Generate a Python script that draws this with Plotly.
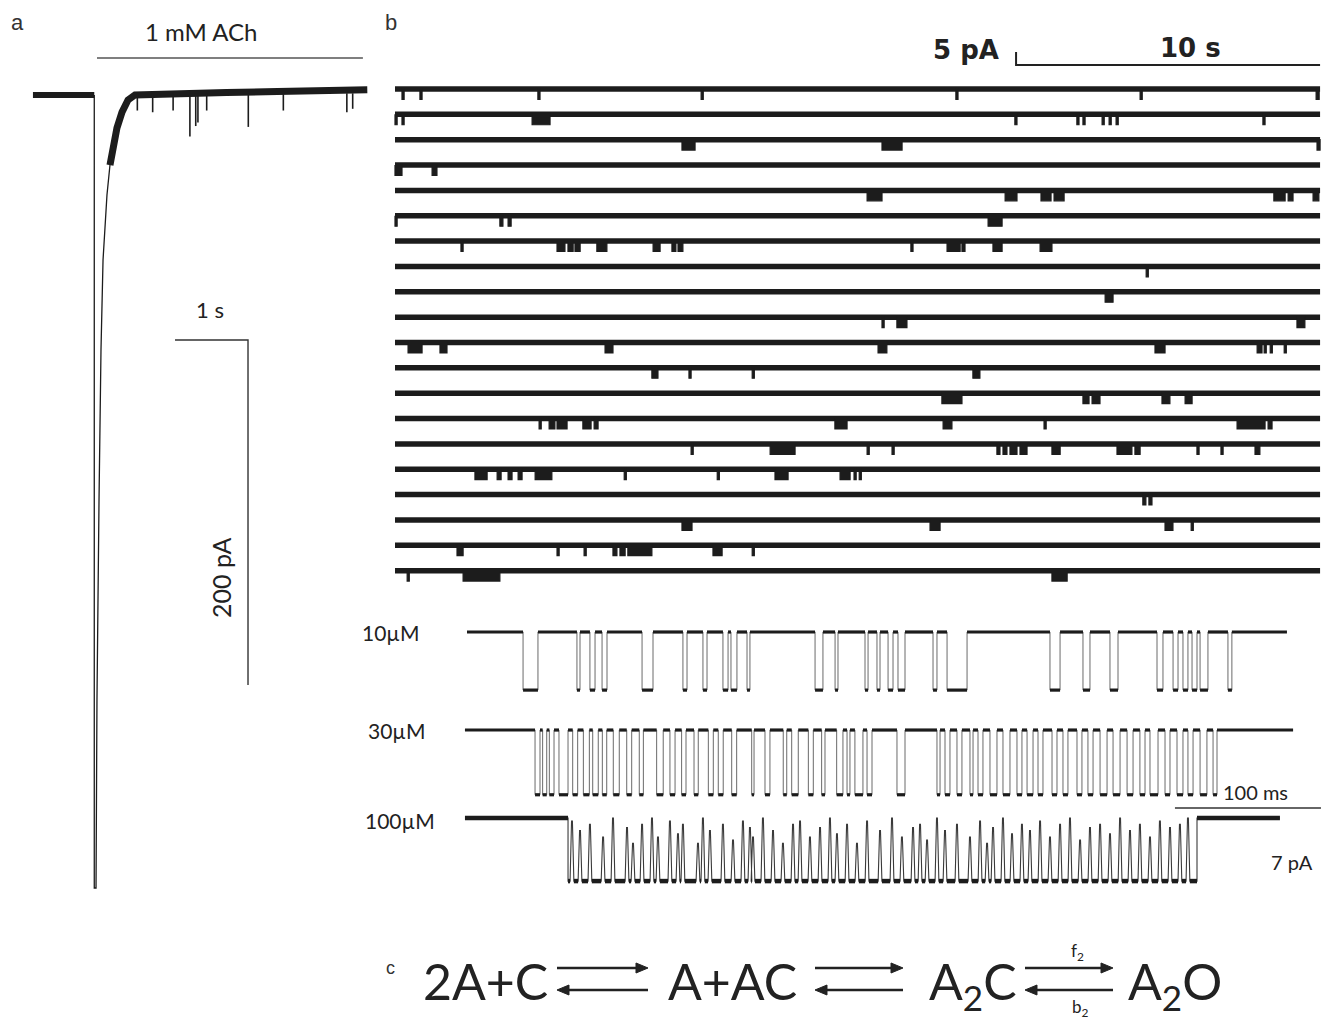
import plotly.graph_objects as go

W, H = 1321, 1025

# ================= panel a : whole-cell current, 1 mM ACh (time s, current pA) =================
a_pre_t = [-0.85, -0.01]
a_pre_I = [0.0, 0.0]
a_fast_t = [-0.01, -0.01, 0.014, 0.027, 0.055, 0.082, 0.110, 0.137, 0.164, 0.205, 0.247]
a_fast_I = [0.0, -459.7, -459.7, -350.7, -234.8, -147.8, -95.7, -72.5, -58.0, -40.6, -29.0]
a_rec_t = [0.205, 0.247, 0.301, 0.370, 0.452, 0.548, 0.80, 1.20, 1.80, 2.50, 3.10, 3.73]
a_rec_I = [-40.6, -29.0, -19.1, -9.9, -2.9, 0.0, 0.5, 1.0, 1.5, 2.0, 2.5, 3.0]
a_dip_t = [0.58, 0.79, 1.07, 1.30, 1.38, 1.41, 1.53, 2.10, 2.58, 3.45, 3.53]
a_dip_I = [-9.0, -10.0, -9.0, -24.0, -18.0, -16.0, -9.0, -18.5, -9.0, -10.0, -8.0]
ach_t = [0.027, 3.67]
ach_level = 21.4
sb_a = dict(t0=1.096, I0=-142.0, dt=1.0, dI=200.0)

# ================= panel b : single-channel record, 20 rows (time s, current pA) =================
b_len = 30.43
b_row_step = 9.75
b_amp = 4.0
row_01 = [(0.23, 0.30), (0.82, 0.89), (4.70, 4.77), (10.07, 10.14), (18.45, 18.52), (24.51, 24.58), (30.30, 30.40)]
row_02 = [(0.0, 0.07), (0.23, 0.30), (4.51, 5.10), (20.39, 20.46), (22.43, 22.50), (22.63, 22.70),
          (23.26, 23.33), (23.49, 23.56), (23.72, 23.79), (28.55, 28.62)]
row_03 = [(9.44, 9.87), (16.02, 16.68), (30.33, 30.43)]
row_04 = [(0.0, 0.23), (1.22, 1.38)]
row_05 = [(15.53, 16.02), (20.07, 20.46), (21.25, 21.58), (21.68, 22.01), (28.91, 29.28), (29.38, 29.54), (30.20, 30.39)]
row_06 = [(0.0, 0.07), (3.45, 3.55), (3.72, 3.82), (19.51, 19.97)]
row_07 = [(2.17, 2.24), (5.33, 5.59), (5.69, 5.86), (5.92, 6.09), (6.64, 6.97), (8.49, 8.72), (9.11, 9.24),
          (9.31, 9.47), (16.97, 17.04), (18.16, 18.59), (18.65, 18.75), (19.67, 19.97), (21.22, 21.61)]
row_08 = [(24.71, 24.78)]
row_09 = [(23.36, 23.62)]
row_10 = [(16.02, 16.09), (16.51, 16.84), (29.67, 29.93)]
row_11 = [(0.43, 0.89), (1.48, 1.71), (6.91, 7.17), (15.89, 16.18), (25.00, 25.33), (28.36, 28.52),
          (28.59, 28.66), (28.79, 28.86), (29.25, 29.32)]
row_12 = [(8.45, 8.65), (9.67, 9.74), (11.75, 11.82), (19.01, 19.24)]
row_13 = [(17.99, 18.65), (22.63, 22.83), (22.93, 23.19), (25.23, 25.49), (25.99, 26.22)]
row_14 = [(4.74, 4.81), (5.07, 5.26), (5.33, 5.66), (6.18, 6.45), (6.55, 6.68), (14.47, 14.87), (18.03, 18.32),
          (21.35, 21.42), (27.70, 28.62), (28.72, 28.85)]
row_15 = [(9.74, 9.81), (12.34, 13.16), (15.53, 15.60), (16.35, 16.42), (19.80, 19.90), (20.00, 20.13),
          (20.23, 20.46), (20.56, 20.79), (21.61, 21.88), (23.75, 24.24), (24.34, 24.51), (26.38, 26.45),
          (27.17, 27.24), (28.29, 28.45)]
row_16 = [(2.63, 3.03), (3.36, 3.49), (3.72, 3.85), (4.05, 4.18), (4.61, 5.16), (7.54, 7.61), (10.60, 10.67),
          (12.50, 12.93), (14.64, 14.97), (15.10, 15.17), (15.27, 15.34)]
row_17 = [(24.60, 24.70), (24.80, 24.90)]
row_18 = [(9.44, 9.77), (17.60, 17.93), (25.33, 25.59), (26.19, 26.26)]
row_19 = [(2.04, 2.24), (5.33, 5.40), (6.22, 6.29), (7.17, 7.30), (7.40, 7.57), (7.66, 8.45), (10.46, 10.76), (11.75, 11.82)]
row_20 = [(0.40, 0.47), (2.24, 3.45), (21.61, 22.11)]
b_rows = [row_01, row_02, row_03, row_04, row_05, row_06, row_07, row_08, row_09, row_10,
          row_11, row_12, row_13, row_14, row_15, row_16, row_17, row_18, row_19, row_20]
sb_b = dict(t0=20.43, I0=9.23, dt=10.0, dI=5.0)

# ================= bottom : clusters at 3 concentrations (time ms, current pA) =================
c_labels = ["10µM", "30µM", "100µM"]
c_offsets = [0.0, -11.81, -22.41]
c_amp = [7.0, 7.8, 7.6]
c10_span = (0.0, 561.6)
c10_open = [(38.4, 48.6), (75.3, 77.4), (84.2, 87.7), (92.5, 95.9), (119.9, 127.4), (147.9, 150.7),
            (161.6, 164.4), (175.3, 178.8), (180.8, 184.9), (191.8, 193.8), (238.4, 243.8), (252.1, 254.1),
            (272.6, 274.7), (280.8, 282.9), (288.4, 291.8), (295.2, 300.0), (319.2, 321.9), (328.8, 342.5),
            (399.3, 406.2), (421.9, 426.7), (440.4, 445.9), (472.6, 476.7), (483.6, 487.0), (490.4, 493.8),
            (496.6, 500.0), (502.1, 507.5), (521.2, 523.9)]
c30_span = (-1.4, 565.8)
c30_open = [(46.6, 50.0), (51.8, 54.6), (56.4, 59.6), (63.0, 69.2), (72.4, 75.8), (79.7, 83.8), (86.1, 89.9),
            (92.7, 95.7), (100.2, 104.3), (109.4, 112.8), (118.0, 120.8), (129.9, 134.4), (139.0, 142.5),
            (147.0, 150.0), (155.5, 158.4), (165.3, 168.7), (172.1, 175.5), (181.3, 184.7), (195.0, 196.6),
            (204.1, 207.5), (216.6, 219.0), (222.4, 226.9), (233.8, 237.2), (242.9, 245.2), (253.2, 257.5),
            (260.3, 262.3), (265.7, 271.2), (274.0, 277.4), (294.5, 300.0), (321.9, 324.0), (327.4, 330.8),
            (335.6, 339.0), (344.5, 346.6), (350.0, 353.4), (358.2, 363.0), (367.1, 371.9), (376.7, 380.1),
            (383.6, 387.7), (391.1, 394.5), (400.7, 404.1), (408.2, 411.6), (417.8, 421.2), (425.3, 428.8),
            (433.6, 438.4), (442.5, 447.3), (452.1, 456.2), (460.9, 464.4), (467.8, 473.3), (478.1, 481.5),
            (486.3, 490.4), (493.8, 497.3), (502.1, 506.8), (511.0, 513.7)]
c100_span = (-1.4, 556.8)
c100_burst = (69.2, 500.0)
c100_close_t = [71.9, 77.4, 84.2, 93.2, 100.0, 109.6, 113.7, 119.9, 126.7, 130.8, 139.0,
                144.5, 147.9, 158.2, 161.6, 166.4, 175.3, 182.2, 189.0, 193.8, 195.9, 202.7,
                209.6, 216.4, 223.3, 228.1, 234.9, 241.8, 248.6, 253.4, 260.3, 267.1, 274.0,
                282.9, 291.1, 297.9, 305.5, 310.3, 315.1, 321.9, 327.4, 335.6, 344.5, 351.4,
                356.2, 360.3, 367.1, 373.3, 380.1, 385.6, 392.5, 399.3, 406.2, 413.0, 419.9,
                426.7, 433.6, 440.4, 447.3, 454.1, 460.9, 467.8, 474.6, 481.5, 488.3, 493.8]
c100_close_h = [0.95, 0.80, 0.90, 0.70, 1.00, 0.85, 0.60, 0.90, 1.00, 0.70, 0.95,
                0.75, 0.90, 0.60, 1.00, 0.80, 0.90, 0.65, 0.95, 0.85, 0.70, 1.00,
                0.80, 0.60, 0.90, 0.95, 0.70, 0.85, 1.00, 0.75, 0.90, 0.60, 0.95,
                0.80, 1.00, 0.70, 0.85, 0.90, 0.65, 1.00, 0.80, 0.90, 0.70, 0.95,
                0.60, 0.85, 1.00, 0.75, 0.90, 0.80, 0.95, 0.70, 0.90, 1.00, 0.65,
                0.85, 0.90, 0.75, 1.00, 0.80, 0.90, 0.70, 0.95, 0.85, 0.90, 1.00]
sb_c = dict(t0=484.9, I0=-21.2, dt=100.0)

# ================= figure =================
fig = go.Figure()
INK = "#1c1c1c"


def line(x, y, ax, width, color=INK, **kw):
    fig.add_trace(go.Scatter(x=x, y=y, mode="lines", xaxis=ax[0], yaxis=ax[1],
                             line=dict(color=color, width=width), hoverinfo="skip",
                             showlegend=False, **kw))


A = ("x", "y")
B = ("x2", "y2")
C = ("x3", "y3")

# --- panel a
line(a_pre_t, a_pre_I, A, 6)
line(a_rec_t, a_rec_I, A, 7)
line(a_fast_t, a_fast_I, A, 1.3)
dx, dy = [], []
for t, v in zip(a_dip_t, a_dip_I):
    dx += [t, t, None]
    dy += [1.0, v, None]
line(dx, dy, A, 1.6)
line(ach_t, [ach_level, ach_level], A, 1.5, color="#555")
line([sb_a["t0"], sb_a["t0"] + sb_a["dt"], sb_a["t0"] + sb_a["dt"]],
     [sb_a["I0"], sb_a["I0"], sb_a["I0"] - sb_a["dI"]], A, 1.4, color="#333")

# --- panel b
bx, by, ex, ey = [], [], [], []
for k, events in enumerate(b_rows):
    base = -b_row_step * k
    bx += [0.0, b_len, None]
    by += [base, base, None]
    for s, e in events:
        ex += [s, e, e, s, s, None]
        ey += [base, base, base - b_amp, base - b_amp, base, None]
line(bx, by, B, 5.5)
fig.add_trace(go.Scatter(x=ex, y=ey, mode="lines", xaxis="x2", yaxis="y2", fill="toself",
                         fillcolor=INK, line=dict(color=INK, width=1.2), hoverinfo="skip",
                         showlegend=False))
line([sb_b["t0"], sb_b["t0"], sb_b["t0"] + sb_b["dt"]],
     [sb_b["I0"] + sb_b["dI"], sb_b["I0"], sb_b["I0"]], B, 2, color="#222")


# --- bottom clusters
def step_cluster(span, openings, base, amp):
    xs, ys = [span[0]], [base]
    lx, ly = [], []
    prev = span[0]
    for s, e in openings:
        xs += [s, s, e, e]
        ys += [base, base - amp, base - amp, base]
        lx += [prev, s, None, s, e, None]
        ly += [base, base, None, base - amp, base - amp, None]
        prev = e
    xs.append(span[1])
    ys.append(base)
    lx += [prev, span[1], None]
    ly += [base, base, None]
    line(xs, ys, C, 1.0, color="#6a6a6a")
    line(lx, ly, C, 3.2, color=INK)


step_cluster(c10_span, c10_open, c_offsets[0], c_amp[0])
step_cluster(c30_span, c30_open, c_offsets[1], c_amp[1])

base, amp = c_offsets[2], c_amp[2]
op = base - amp
xs = [c100_span[0], c100_burst[0], c100_burst[0]]
ys = [base, base, op]
lx, ly = [c100_span[0], c100_burst[0], None], [base, base, None]
prev = c100_burst[0]
for t, h in zip(c100_close_t, c100_close_h):
    xs += [t - 1.3, t - 0.3, t + 0.3, t + 1.3]
    ys += [op, op + amp * h, op + amp * h, op]
    lx += [prev, t - 1.3, None]
    ly += [op, op, None]
    prev = t + 1.3
xs += [c100_burst[1], c100_burst[1], c100_span[1]]
ys += [op, base, base]
lx += [prev, c100_burst[1], None, c100_burst[1], c100_span[1], None]
ly += [op, op, None, base, base, None]
line(xs, ys, C, 1.1, color="#3a3a3a")
line(lx, ly, C, 4.5, color=INK)
line([sb_c["t0"], sb_c["t0"] + sb_c["dt"]], [sb_c["I0"], sb_c["I0"]], C, 1.5, color="#333")


# ================= layout =================
def xdom(p0, p1):
    return [p0 / W, p1 / W]


def ydom(p0, p1):
    return [1 - p1 / H, 1 - p0 / H]


ax_common = dict(visible=False, showgrid=False, zeroline=False, fixedrange=True)

anns = []


def txt(x, y, s, size, family="Lato", color="#222", xa="center", ya="middle", angle=0):
    anns.append(dict(x=x / W, y=1 - y / H, xref="paper", yref="paper", text=s, showarrow=False,
                     xanchor=xa, yanchor=ya, textangle=angle,
                     font=dict(family=family, size=size, color=color)))


txt(17, 22, "a", 22, family="Liberation Sans", color="#333")
txt(201, 31, "1 mM ACh", 24)
txt(210, 309, "1 s", 22)
txt(221, 578, "200 pA", 25, angle=-90)
txt(391, 22, "b", 22, family="Liberation Sans", color="#333")
txt(966, 50, "<b>5 pA</b>", 26, family="DejaVu Sans", color="#222")
txt(1190, 48, "<b>10 s</b>", 26, family="DejaVu Sans", color="#222")
txt(391, 632, c_labels[0], 21)
txt(397, 730, c_labels[1], 21)
txt(400, 820, c_labels[2], 21)
txt(1255, 792, "100 ms", 20)
txt(1292, 862, "7 pA", 20)
txt(390, 968, "c", 18, family="Liberation Sans", color="#333")
for cx, s in [(485, "2A+C"), (732, "A+AC"), (973, "A<sub>2</sub>C"), (1175, "A<sub>2</sub>O")]:
    txt(cx, 949, s, 50, ya="top")
txt(1077, 952, "f<sub>2</sub>", 17)
txt(1080, 1008, "b<sub>2</sub>", 17)

# equilibrium arrows of the kinetic scheme (drawn as shapes)
shapes = []


def arrow(x_tail, x_tip, y):
    d = 1 if x_tip > x_tail else -1
    shapes.append(dict(type="line", xref="paper", yref="paper",
                       x0=x_tail / W, x1=(x_tip - d * 8) / W, y0=1 - y / H, y1=1 - y / H,
                       line=dict(color="#222", width=2.6)))
    path = "M {:.5f},{:.5f} L {:.5f},{:.5f} L {:.5f},{:.5f} Z".format(
        x_tip / W, 1 - y / H,
        (x_tip - d * 12) / W, 1 - (y - 5) / H,
        (x_tip - d * 12) / W, 1 - (y + 5) / H)
    shapes.append(dict(type="path", xref="paper", yref="paper", path=path,
                       fillcolor="#222", line=dict(color="#222", width=1)))


for x0, x1 in [(557, 648), (815, 903), (1025, 1113)]:
    arrow(x0, x1, 968)
    arrow(x1, x0, 990)

fig.update_layout(
    width=W, height=H, margin=dict(l=0, r=0, t=0, b=0),
    paper_bgcolor="white", plot_bgcolor="rgba(0,0,0,0)", showlegend=False,
    xaxis=dict(domain=xdom(30, 370), range=[(30 - 95) / 73, (370 - 95) / 73], anchor="y", **ax_common),
    yaxis=dict(domain=ydom(20, 900), range=[-(900 - 95) / 1.725, (95 - 20) / 1.725], anchor="x", **ax_common),
    xaxis2=dict(domain=xdom(385, 1321), range=[(385 - 395) / 30.4, (1321 - 395) / 30.4], anchor="y2", **ax_common),
    yaxis2=dict(domain=ydom(40, 600), range=[-(600 - 89) / 2.6, (89 - 40) / 2.6], anchor="x2", **ax_common),
    xaxis3=dict(domain=xdom(440, 1321), range=[(440 - 467) / 1.46, (1321 - 467) / 1.46], anchor="y3", **ax_common),
    yaxis3=dict(domain=ydom(600, 920), range=[-(920 - 632) / 8.3, (632 - 600) / 8.3], anchor="x3", **ax_common),
    annotations=anns,
    shapes=shapes,
)

fig.write_html("out.html", config={"displayModeBar": False},
               post_script="document.body.style.margin='0px';document.body.style.overflow='hidden';")
